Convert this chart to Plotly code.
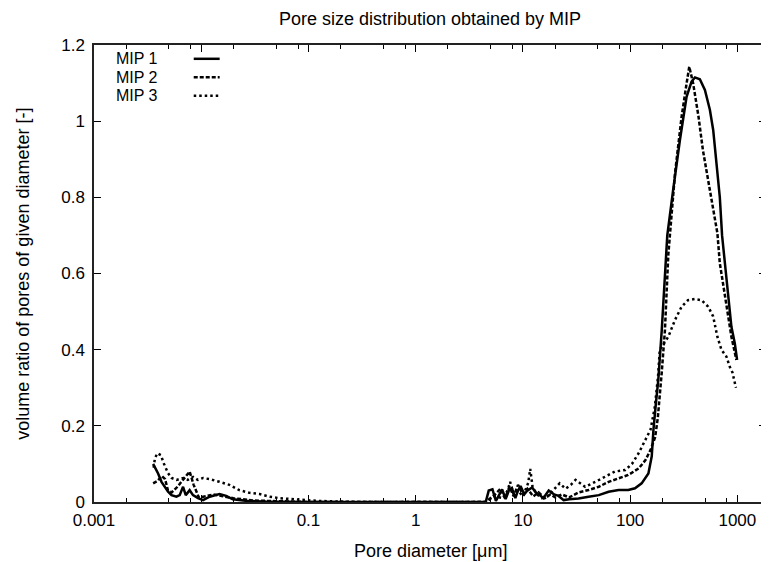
import plotly.graph_objects as go

# pore diameter [um] and volume ratio
mip1_d = [0.00356, 0.00396, 0.00426, 0.00457, 0.00491, 0.00528, 0.00587, 0.0063, 0.00677, 0.00717,
          0.0078, 0.00838, 0.00933, 0.0104, 0.012, 0.0148, 0.0171, 0.0197, 0.0263, 0.04,
          0.1, 1, 4.5,
          4.8, 5.2, 5.6, 6.0, 6.4, 6.9, 7.4, 7.9, 8.5, 9.0, 9.5, 10.3, 11.0, 12.2, 13.2, 14.0, 15.5, 17.4, 19.5, 21.5,
          24, 27, 33, 41, 51, 63, 78, 96, 111, 128, 148,
          159, 165, 174, 183, 197, 211, 222, 252, 291, 336, 374, 402, 447, 498, 554, 595, 638, 686, 720, 764, 819, 880, 946, 994]
mip1_v = [0.10, 0.075, 0.053, 0.04, 0.027, 0.018, 0.014, 0.018, 0.04, 0.018,
          0.031, 0.018, 0.01, 0.005, 0.014, 0.021, 0.016, 0.007, 0.003, 0.001,
          0.0, 0.0, 0.0,
          0.03, 0.033, 0.003, 0.02, 0.033, 0.008, 0.03, 0.036, 0.01, 0.03, 0.042, 0.02, 0.03, 0.038, 0.025, 0.021, 0.01, 0.03, 0.02, 0.016,
          0.005, 0.007, 0.009, 0.014, 0.018, 0.027, 0.0315, 0.0315, 0.036, 0.049, 0.075,
          0.12, 0.19, 0.26, 0.32, 0.45, 0.58, 0.70, 0.82, 0.95, 1.064, 1.104, 1.115, 1.11, 1.082, 1.03, 0.977, 0.898, 0.80, 0.70, 0.627, 0.539, 0.46, 0.417, 0.373]

mip2_d = [0.00356, 0.0039, 0.0043, 0.0046, 0.0049, 0.0053, 0.006, 0.0068, 0.0078, 0.0085,
          0.0095, 0.011, 0.013, 0.016, 0.02, 0.03, 0.05,
          0.1, 1, 4.5,
          5.5, 6.2, 6.8, 7.5, 8.2, 9.0, 10, 11, 12.5, 14, 16, 18, 20, 23, 27,
          33, 41, 51, 63, 78, 96, 120, 139, 155, 171, 181, 190, 197, 211, 227,
          262, 302, 336, 356, 387, 434, 477, 534, 595, 651, 686, 743, 801, 880, 979]
mip2_v = [0.049, 0.055, 0.068, 0.06, 0.03, 0.025, 0.04, 0.06, 0.08, 0.045,
          0.012, 0.015, 0.02, 0.015, 0.01, 0.004, 0.002,
          0.0, 0.0, 0.0,
          0.02, 0.035, 0.01, 0.04, 0.015, 0.045, 0.02, 0.035, 0.015, 0.025, 0.01, 0.02, 0.012, 0.02, 0.012,
          0.025, 0.0315, 0.04, 0.053, 0.062, 0.071, 0.088, 0.11, 0.137, 0.17, 0.22, 0.28, 0.34, 0.45, 0.65,
          0.863, 1.012, 1.099, 1.143, 1.099, 1.012, 0.924, 0.846, 0.775, 0.706, 0.627, 0.565, 0.496, 0.434, 0.373]

mip3_d = [0.0036, 0.0037, 0.0039, 0.0042, 0.0045, 0.0049, 0.0053, 0.0059, 0.0068, 0.0075,
          0.0084, 0.0093, 0.0104, 0.012, 0.0148, 0.0183, 0.0227, 0.0282, 0.035, 0.0433,
          0.0537, 0.08, 0.12, 0.2, 0.3,
          1, 4.5,
          5.5, 6.5, 7.2, 7.6, 8.2, 9.0, 10, 11.2, 11.7, 12.3, 13.5, 15, 17, 19, 22,
          25, 28, 31, 38, 47.5, 59, 72, 90, 104, 120, 139, 155, 170, 182, 189,
          227, 262, 302, 346, 400, 463, 534, 595, 651, 710, 790, 850, 900, 970]
mip3_v = [0.09, 0.115, 0.128, 0.123, 0.10, 0.076, 0.063, 0.058, 0.063, 0.058,
          0.066, 0.058, 0.063, 0.06, 0.053, 0.045, 0.031, 0.024, 0.021, 0.014,
          0.01, 0.006, 0.003, 0.001, 0.0,
          0.0, 0.0,
          0.015, 0.01, 0.03, 0.053, 0.02, 0.03, 0.015, 0.05, 0.087, 0.04, 0.02, 0.01, 0.015, 0.03, 0.049,
          0.035, 0.045, 0.058, 0.04, 0.053, 0.066, 0.08, 0.084, 0.10, 0.128, 0.163, 0.19, 0.25, 0.33, 0.40,
          0.434, 0.478, 0.513, 0.53, 0.533, 0.53, 0.513, 0.487, 0.434, 0.40, 0.382, 0.355, 0.34, 0.30]

names = ["MIP 1", "MIP 2", "MIP 3"]
dashes = ["solid", "4px,2px", "2.5px,3px"]

x_ticks = [0.001, 0.01, 0.1, 1, 10, 100, 1000]
x_ticktext = ["0.001", "0.01", "0.1", "1", "10", "100", "1000"]
x_minor = [m * 10 ** e for e in range(-3, 3) for m in (2, 5, 8)] + [2000]

font = "Liberation Sans, Arial, sans-serif"

fig = go.Figure()
for d, v, name, dash in zip([mip1_d, mip2_d, mip3_d], [mip1_v, mip2_v, mip3_v], names, dashes):
    fig.add_trace(go.Scatter(x=d, y=v, mode="lines", name=name, showlegend=False,
                             line=dict(color="black", width=2.5, dash=dash)))

# gnuplot-style key: text on the left, line sample on the right
for i, (name, dash) in enumerate(zip(names, dashes)):
    yk = 0.9698 - i * 0.0403
    fig.add_annotation(x=0.098, y=yk, xref="paper", yref="paper", text=name, showarrow=False,
                       xanchor="right", yanchor="middle", font=dict(size=16, color="black", family=font))
    fig.add_shape(type="line", xref="paper", yref="paper", x0=0.1484, x1=0.187, y0=yk, y1=yk,
                  line=dict(color="black", width=2.5, dash=dash))

fig.add_annotation(x=-0.1068, y=0.5, xref="paper", yref="paper",
                   text="volume ratio of pores of given diameter [-]", textangle=-90,
                   showarrow=False, xanchor="center", yanchor="middle",
                   font=dict(size=18, color="black", family=font))
fig.add_annotation(x=0.5, y=-0.1075, xref="paper", yref="paper", text="Pore diameter [μm]",
                   showarrow=False, xanchor="center", yanchor="middle",
                   font=dict(size=18, color="black", family=font))

# the page body adds an 8px margin, so the figure is 8px smaller than the window
fig.update_layout(
    width=761, height=554,
    margin=dict(l=86, r=1, t=37, b=60),
    paper_bgcolor="white", plot_bgcolor="white",
    font=dict(family=font, size=17, color="black"),
    title=dict(text="Pore size distribution obtained by MIP", x=0.5, xref="paper",
               y=1 - 11 / 554, yanchor="middle", font=dict(size=18, color="black")),
    showlegend=False,
)

fig.update_xaxes(type="log", range=[-3, 3.267], tickmode="array", tickvals=x_ticks, ticktext=x_ticktext,
                 ticks="inside", ticklen=7, tickwidth=1.2, tickcolor="black",
                 minor=dict(tickmode="array", tickvals=x_minor, ticks="inside", ticklen=4,
                            tickwidth=1.2, tickcolor="black"),
                 showline=True, linecolor="#222", linewidth=1.5, mirror="ticks",
                 showgrid=False, zeroline=False, ticklabelstandoff=2)
fig.update_yaxes(range=[0, 1.2], dtick=0.2, tick0=0,
                 ticks="inside", ticklen=7, tickwidth=1.2, tickcolor="black",
                 showline=True, linecolor="#222", linewidth=1.5, mirror="ticks",
                 showgrid=False, zeroline=False, ticklabelstandoff=4)

fig.write_html("out.html")
